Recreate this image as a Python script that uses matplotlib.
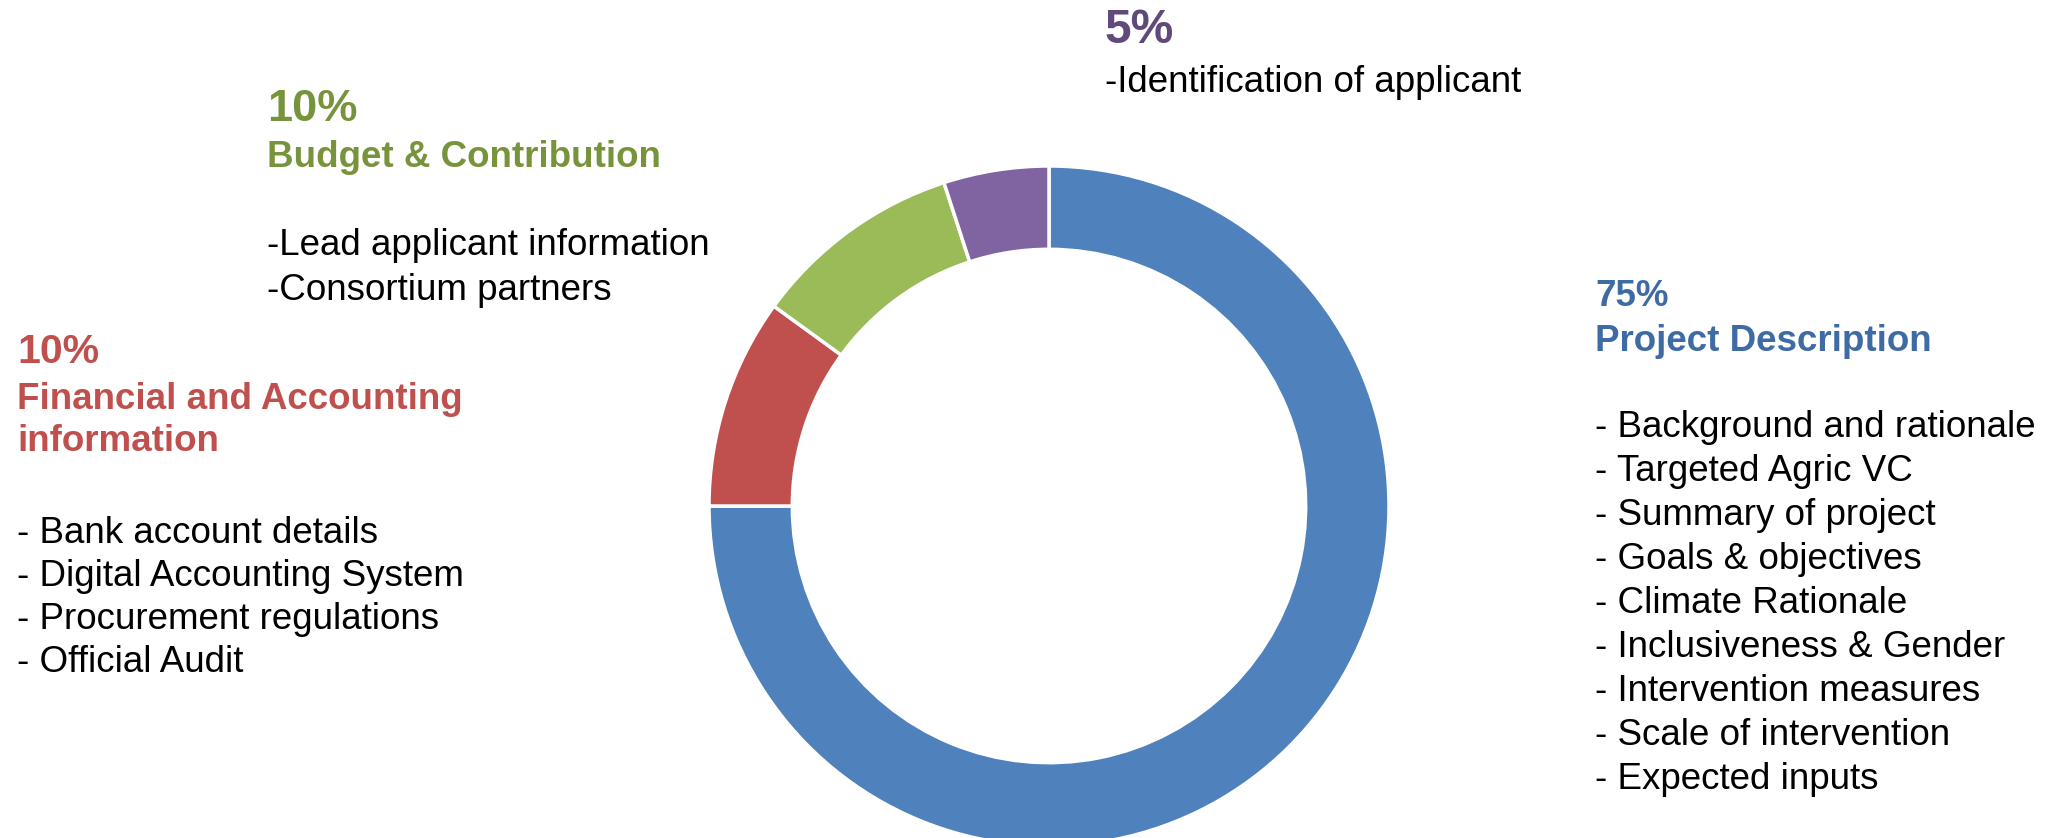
import matplotlib

matplotlib.use("Agg")
import matplotlib.pyplot as plt

plt.rcParams["font.family"] = ["Liberation Sans", "DejaVu Sans"]

# slice data, drawn clockwise from 12 o'clock
sections = ["Project Description", "Financial and Accounting information",
            "Budget & Contribution", "Identification"]
shares = [75, 10, 10, 5]
slice_colors = ["#4F81BD", "#C0504D", "#9BBB59", "#8064A2"]

# annotation text per block
pct_labels = ["75%", "10%", "10%", "5%"]
head_lines = [["Project Description"],
              ["Financial and Accounting", "information"],
              ["Budget & Contribution"],
              []]
bullets = [
    ["- Background and rationale", "- Targeted Agric VC", "- Summary of project",
     "- Goals & objectives", "- Climate Rationale", "- Inclusiveness & Gender",
     "- Intervention measures", "- Scale of intervention", "- Expected inputs"],
    ["- Bank account details", "- Digital Accounting System",
     "- Procurement regulations", "- Official Audit"],
    ["-Lead applicant information", "-Consortium partners"],
    ["-Identification of applicant"],
]
text_colors = ["#3F6BA5", "#C0504D", "#77933C", "#604A7B"]

W, H = 2062, 838
fig = plt.figure(figsize=(W / 100, H / 100), dpi=100)

# donut placed in pixel space
cx, cy, R = 1049, 506, 340
ax = fig.add_axes([(cx - R) / W, (H - cy - R) / H, 2 * R / W, 2 * R / H])
ax.pie(shares, colors=slice_colors, startangle=90, counterclock=False, radius=1,
       wedgeprops=dict(width=0.245, edgecolor="white", linewidth=2.5))
ax.set_xlim(-1.0, 1.0)
ax.set_ylim(-1.0, 1.0)
ax.axis("off")


def put(x, y, s, **kw):
    fig.text(x / W, 1 - y / H, s, ha="left", va="baseline", **kw)


# block layout: left x, pct baseline, pct size, header baselines, bullet baselines
layout = [
    (1595, 306, 26.5, [351], [437 + 44 * i for i in range(9)]),
    (17, 363, 29.5, [409, 451], [543, 586, 629, 672]),
    (267, 121, 32.5, [167], [255, 300]),
    (1105, 43, 34.5, [], [92]),
]

for k, (x, y_pct, pct_size, y_heads, y_bul) in enumerate(layout):
    put(x, y_pct, pct_labels[k], fontsize=pct_size, fontweight="bold",
        color=text_colors[k])
    for yy, s in zip(y_heads, head_lines[k]):
        put(x, yy, s, fontsize=26.5, fontweight="bold", color=text_colors[k])
    for yy, s in zip(y_bul, bullets[k]):
        put(x, yy, s, fontsize=26.5, color="black")

fig.savefig("out.png", dpi=100, facecolor="white")
